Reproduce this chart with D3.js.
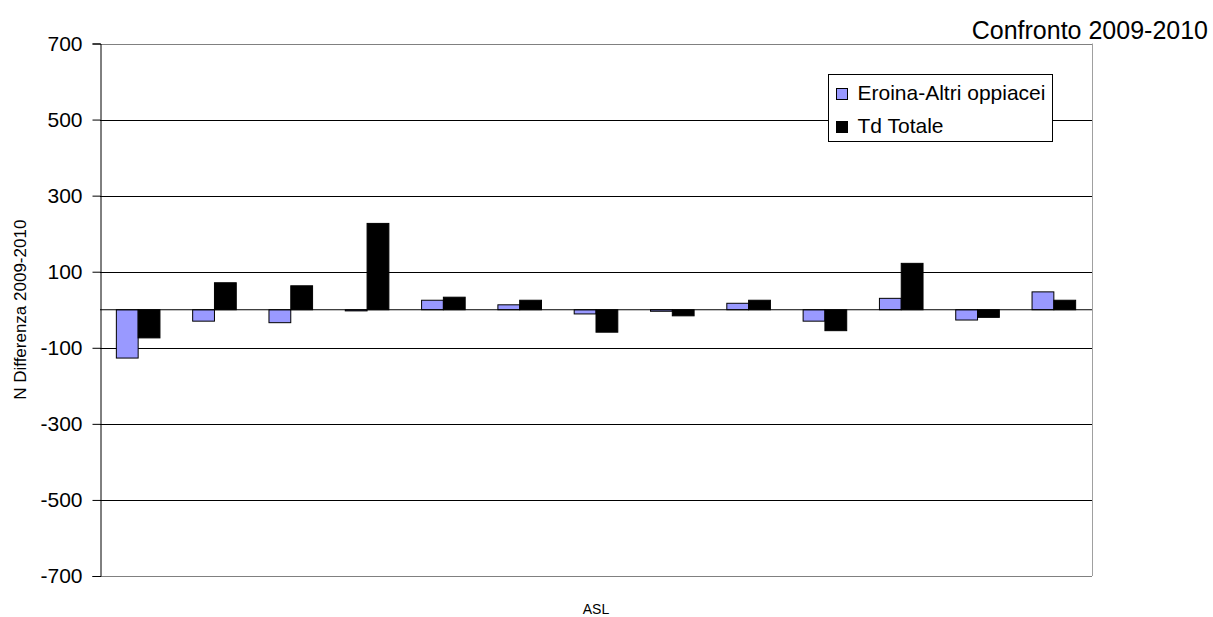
<!DOCTYPE html>
<html>
<head>
<meta charset="utf-8">
<script src="https://cdn.jsdelivr.net/npm/d3@7"></script>
<style>
body { margin: 0; background: #fff; }
svg { display: block; font-family: Arial, "Liberation Sans", sans-serif; }
</style>
</head>
<body>
<svg id="chart" width="1213" height="617"></svg>
<script>
const categories = ["1","2","3","4","5","6","7","8","9","10","11","12","13"];
const seriesNames = ["Eroina-Altri oppiacei", "Td Totale"];
const eroina = [-127, -30, -34, -3, 25, 13, -11, -4, 17, -30, 30, -27, 47];
const tdTotale = [-74, 71, 63, 227, 33, 25, -59, -16, 25, -55, 122, -20, 25];
const yTicks = [700, 500, 300, 100, -100, -300, -500, -700];
const colors = ["#9999ff", "#000000"];

const svg = d3.select("#chart");
const m = { left: 100, right: 1092, top: 43.5, bottom: 576 };

const y = d3.scaleLinear().domain([-700, 700]).range([m.bottom, m.top]);
const x0 = d3.scaleBand().domain(categories).range([m.left, m.right]).paddingInner(0.4286).paddingOuter(0.2143);
const x1 = d3.scaleBand().domain(seriesNames).range([0, x0.bandwidth()]);

// gridlines
svg.append("g").selectAll("line").data(yTicks.filter(d => d !== 700 && d !== -700)).join("line")
  .attr("x1", m.left).attr("x2", m.right)
  .attr("y1", d => Math.round(y(d)) + 0.5).attr("y2", d => Math.round(y(d)) + 0.5)
  .attr("stroke", "#000").attr("stroke-width", 1);
// frame top/right/bottom
svg.append("line").attr("x1", m.left).attr("x2", m.right).attr("y1", Math.round(y(700)) + 0.5).attr("y2", Math.round(y(700)) + 0.5).attr("stroke", "#808080");
svg.append("line").attr("x1", m.left).attr("x2", m.right).attr("y1", Math.round(y(-700)) + 0.5).attr("y2", Math.round(y(-700)) + 0.5).attr("stroke", "#808080");
svg.append("line").attr("x1", m.right + 0.5).attr("x2", m.right + 0.5).attr("y1", y(700)).attr("y2", y(-700)).attr("stroke", "#a0a0a0");

// bars
const data = categories.map((c, i) => ({ c, vals: [eroina[i], tdTotale[i]] }));
const groups = svg.append("g").selectAll("g").data(data).join("g")
  .attr("transform", d => `translate(${x0(d.c)},0)`);
groups.selectAll("rect").data(d => d.vals.map((v, j) => ({ v, s: seriesNames[j], j }))).join("rect")
  .attr("x", d => x1(d.s))
  .attr("width", x1.bandwidth())
  .attr("y", d => Math.min(y(d.v), y(0)))
  .attr("height", d => Math.abs(y(d.v) - y(0)))
  .attr("fill", d => colors[d.j])
  .attr("stroke", "#000").attr("stroke-width", 1);

// zero line
svg.append("line").attr("x1", m.left).attr("x2", m.right).attr("y1", y(0)).attr("y2", y(0)).attr("stroke", "#000");

// y axis
const yAxis = d3.axisLeft(y).tickValues(yTicks).tickSize(8).tickPadding(10).tickFormat(d => String(d));
const ga = svg.append("g").attr("transform", `translate(${m.left + 0.5},0)`).call(yAxis);
ga.select(".domain").attr("stroke", "#000");
ga.selectAll(".tick line").attr("stroke", "#000");
ga.selectAll("text").attr("font-size", 21).attr("fill", "#000").style("font-family", "Arial, 'Liberation Sans', sans-serif");

// title
svg.append("text").attr("x", 1208).attr("y", 39).attr("text-anchor", "end")
  .attr("font-size", 25).text("Confronto 2009-2010");

// axis titles
svg.append("text").attr("transform", `translate(26,${(m.top + m.bottom) / 2}) rotate(-90)`)
  .attr("text-anchor", "middle").attr("font-size", 17).text("N Differenza 2009-2010");
svg.append("text").attr("x", (m.left + m.right) / 2).attr("y", 614).attr("text-anchor", "middle")
  .attr("font-size", 14).text("ASL");

// legend
const lg = svg.append("g").attr("transform", "translate(828.5,74.5)");
lg.append("rect").attr("width", 224).attr("height", 67).attr("fill", "#fff").attr("stroke", "#000");
seriesNames.forEach((s, i) => {
  const yy = 19 + i * 33;
  lg.append("rect").attr("x", 8).attr("y", yy - 5).attr("width", 11).attr("height", 11)
    .attr("fill", colors[i]).attr("stroke", "#000");
  lg.append("text").attr("x", 29).attr("y", yy + 6).attr("font-size", 21).text(s);
});
</script>
</body>
</html>
